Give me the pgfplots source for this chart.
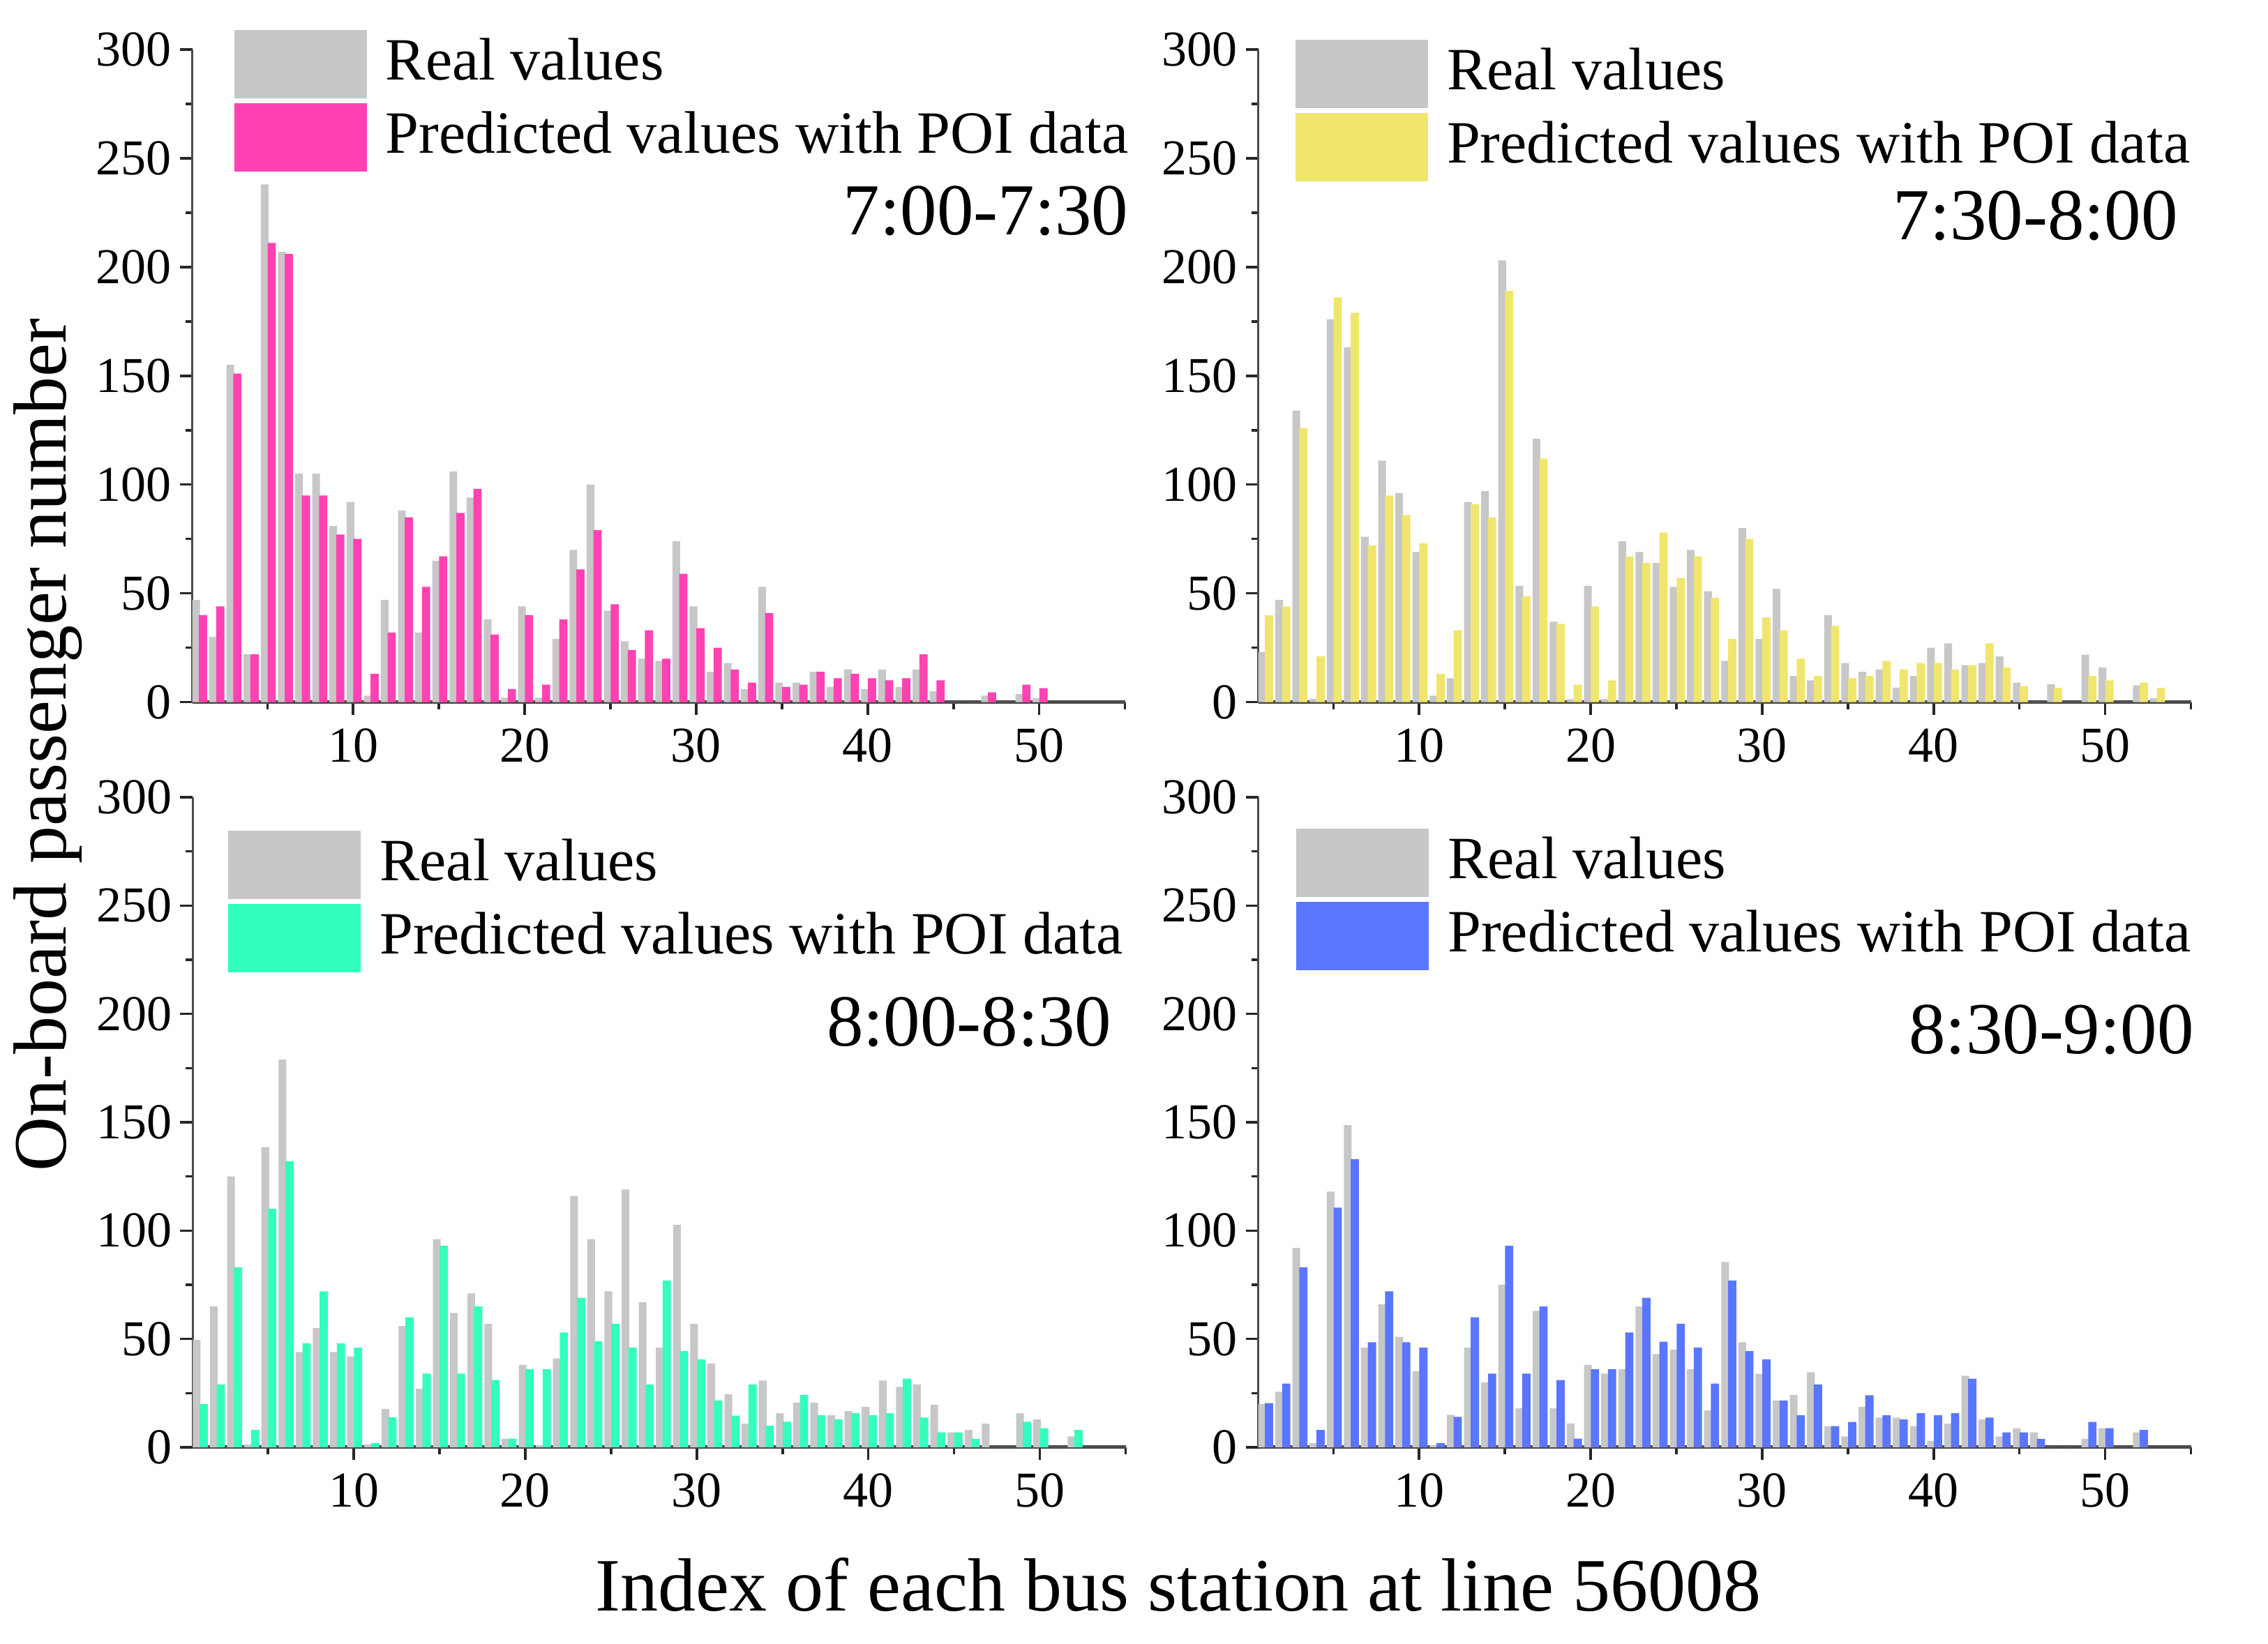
\documentclass[border=0pt]{standalone}
\usepackage{fontspec}
\setmainfont{Liberation Serif}
\usepackage{pgfplots}
\usepackage{pgfplotstable}
\pgfplotsset{compat=1.18}

\definecolor{cgray}{RGB}{199,199,199}
\definecolor{cpink}{RGB}{255,66,178}
\definecolor{cyellow}{RGB}{240,230,110}
\definecolor{cgreen}{RGB}{50,255,190}
\definecolor{cblue}{RGB}{90,118,255}
\definecolor{axgray}{RGB}{75,75,75}

\pgfplotstableread{
x r p
1 47 40
2 30 44
3 155 151
4 22 22
5 238 211
6 207 206
7 105 95
8 105 95
9 81 77
10 92 75
11 3 13
12 47 32
13 88 85
14 32 53
15 65 67
16 106 87
17 94 98
18 38 31
19 2 6
20 44 40
21 2 8
22 29 38
23 70 61
24 100 79
25 42 45
26 28 24
27 20 33
28 19 20
29 74 59
30 44 34
31 14 25
32 18 15
33 6 9
34 53 41
35 9 7
36 9 8
37 14 14
38 7 11
39 15 13
40 6 11
41 15 10
42 7 11
43 15 22
44 5 10
45 0 0
46 0 0
47 3 4.5
48 0 0
49 3.7 8
50 1.8 6.4
}\tabA

\pgfplotstableread{
x r p
1 23 40
2 47 44
3 134 126
4 1.5 21
5 176 186
6 163 179
7 76 72
8 111 95
9 96 86
10 69 73
11 3 13
12 11 33
13 92 91
14 97 85
15 203 189
16 53.5 48.6
17 121 112
18 37 36
19 1.4 8
20 53.5 44
21 1.4 10
22 74 67
23 69 64
24 64 78
25 53 57
26 70 67
27 51 48
28 19 29
29 80 75
30 29 39
31 52 33
32 12 20
33 10 12
34 40 35
35 18 11
36 14 12
37 15 19
38 6.7 15
39 12 18
40 25 18
41 27 15
42 17 17
43 18 27
44 21 16
45 9 7.4
46 0 0
47 8.3 6.6
48 0 0
49 21.8 12
50 16 10
51 0 0
52 7.7 9
53 1.8 6.6
}\tabB

\pgfplotstableread{
x r p
1 49.6 20
2 65 29
3 125 83
4 1.3 8
5 138.5 110
6 179 132
7 44 48
8 55 72
9 44 48
10 42 46
11 1.3 2
12 17.7 13.8
13 56 60
14 27 34
15 96 93
16 62 34
17 71 65
18 57 31
19 4 4
20 38 36
21 1 36
22 41 53
23 116 69
24 96 49
25 72 57
26 119 46
27 67 29
28 46 77
29 102.6 44.4
30 57 40.6
31 38.7 21.6
32 24.5 14.6
33 10.9 29
34 30.8 9.9
35 15.7 11.8
36 20.6 24.2
37 20.6 14.8
38 14.8 12.8
39 16.7 15.7
40 18.6 14.8
41 30.8 15.7
42 27.9 31.7
43 29 13.7
44 19.7 6.9
45 6.9 6.9
46 8 3.9
47 10.9 0
48 0 0
49 15.7 11.8
50 12.8 8.8
51 0 0
52 5 8
}\tabC

\pgfplotstableread{
x r p
1 20 20.4
2 25.6 29.4
3 92 83
4 2 8
5 118 110.6
6 148.7 133
7 46 48.5
8 66 72
9 51 48.5
10 35 46
11 1 2
12 15 14
13 46 60
14 30 34
15 75 93
16 18 34
17 63 65
18 18 31
19 11 4
20 38 36
21 34 36
22 36 53
23 65 69
24 43 48.7
25 45 57
26 36 46
27 17 29.4
28 85.5 77
29 48.5 44.4
30 33.9 40.6
31 21.6 21.6
32 24.2 14.8
33 34.6 29
34 9.8 9.8
35 5 11.7
36 18.6 24
37 13.7 14.8
38 13.7 12.8
39 9.8 15.7
40 3 14.8
41 10.9 15.7
42 33 31.7
43 12.8 13.7
44 5 6.9
45 8.8 6.9
46 6.9 3.9
47 0 0
48 0 0
49 3.9 11.7
50 8.8 8.8
51 0 0
52 6.9 8
}\tabD

\pgfplotsset{
  panel/.style={
    scale only axis, width=133.7pt,
    xmin=0.62, xmax=55, ymin=0, ymax=300,
    axis x line*=bottom, axis y line*=left,
    x axis line style={line width=0.5pt, color=axgray},
    y axis line style={line width=0.35pt, color=axgray},
    xtick={10,20,30,40,50}, minor xtick={5,15,25,35,45,55},
    ytick={0,50,...,300}, minor ytick={25,75,...,275},
    tick align=outside, major tick length=1.8pt, minor tick length=1.0pt,
    every tick/.style={color=black!85, line width=0.35pt},
    ticklabel style={font=\fontsize{7.2}{7.2}\selectfont},
    /pgf/number format/assume math mode=true,
    xticklabel style={inner sep=1pt, yshift=-0.8pt},
    yticklabel style={inner sep=1pt},
    clip mode=individual,
    legend cell align=left,
    legend style={draw=none, fill=none, inner sep=0pt, outer sep=0pt,
      anchor=north west, row sep=0.7pt, column sep=2.7pt,
      nodes={inner sep=0pt, font=\fontsize{8.6}{8.6}\selectfont}},
  },
  realbar/.style={ybar, bar width=0.45, bar shift=-0.16, fill=cgray, draw=none,
    legend image code/.code={\fill[fill=cgray] (0pt,-4.9pt) rectangle (19pt,4.9pt);}},
  predbar/.style={ybar, bar width=0.48, bar shift=0.25, fill=#1, draw=none,
    legend image code/.code={\fill[fill=#1] (0pt,-4.9pt) rectangle (19pt,4.9pt);}},
}

\begin{document}
\begin{tikzpicture}
\path[use as bounding box] (0,0) rectangle (325.1pt,235.7pt);

\begin{axis}[panel, height=93.58pt, at={(27.56pt,135.03pt)}, anchor=south west,
  legend style={at={(0.045,1.03)}}]
\addplot[realbar] table[x=x,y=r]{\tabA};
\addplot[predbar=cpink] table[x=x,y=p]{\tabA};
\legend{Real values, Predicted values with POI data}
\node[anchor=base east, inner sep=0pt, font=\fontsize{10.5}{10.5}\selectfont] at (rel axis cs:1.005,0.716) {7:00-7:30};
\end{axis}

\begin{axis}[panel, height=93.58pt, at={(180.36pt,135.03pt)}, anchor=south west,
  legend style={at={(0.040,1.015)}}]
\addplot[realbar] table[x=x,y=r]{\tabB};
\addplot[predbar=cyellow] table[x=x,y=p]{\tabB};
\legend{Real values, Predicted values with POI data}
\node[anchor=base east, inner sep=0pt, font=\fontsize{10.5}{10.5}\selectfont] at (rel axis cs:0.9875,0.709) {7:30-8:00};
\end{axis}

\begin{axis}[panel, height=93.2pt, at={(27.65pt,28.2pt)}, anchor=south west,
  legend style={at={(0.038,0.948)}}]
\addplot[realbar] table[x=x,y=r]{\tabC};
\addplot[predbar=cgreen] table[x=x,y=p]{\tabC};
\legend{Real values, Predicted values with POI data}
\node[anchor=base east, inner sep=0pt, font=\fontsize{10.5}{10.5}\selectfont] at (rel axis cs:0.9865,0.618) {8:00-8:30};
\end{axis}

\begin{axis}[panel, height=93.2pt, at={(180.36pt,28.2pt)}, anchor=south west,
  legend style={at={(0.041,0.952)}}]
\addplot[realbar] table[x=x,y=r]{\tabD};
\addplot[predbar=cblue] table[x=x,y=p]{\tabD};
\legend{Real values, Predicted values with POI data}
\node[anchor=base east, inner sep=0pt, font=\fontsize{10.5}{10.5}\selectfont] at (rel axis cs:1.0045,0.606) {8:30-9:00};
\end{axis}

\node[anchor=base, rotate=90, inner sep=0pt, font=\fontsize{10.8}{10.8}\selectfont] at (9.5pt,128.9pt) {On-board passenger number};
\node[anchor=base, inner sep=0pt, font=\fontsize{10.8}{10.8}\selectfont] at (168.9pt,4.7pt) {Index of each bus station at line 56008};
\end{tikzpicture}
\end{document}
